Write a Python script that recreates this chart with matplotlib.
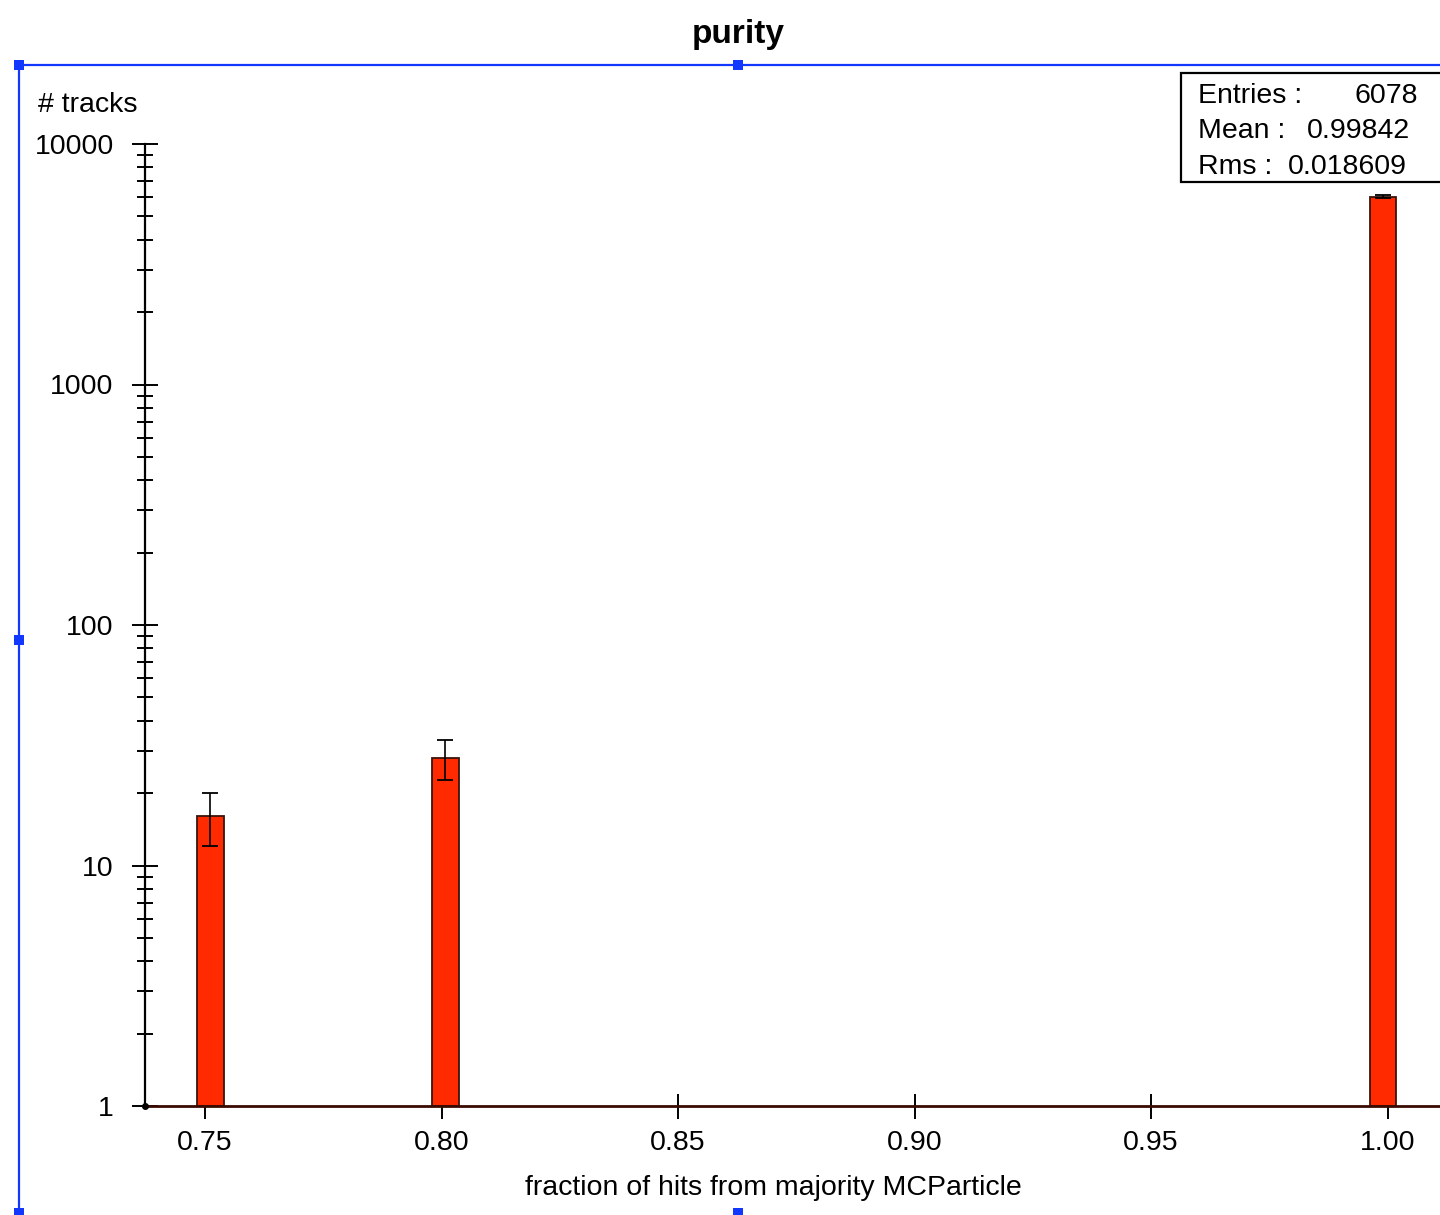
import numpy as np
import matplotlib
matplotlib.use("Agg")
import matplotlib.pyplot as plt
from matplotlib.patches import Rectangle
from matplotlib.lines import Line2D

plt.rcParams["font.family"] = ["Liberation Sans", "DejaVu Sans"]

# purity histogram: three filled bins
bin_values = [0.75, 0.80, 1.00]
bin_left = [0.7483, 0.7980, 0.9963]
bin_width = 0.0056
counts = [16, 28, 6034]
x_ticks = [0.75, 0.80, 0.85, 0.90, 0.95, 1.00]
y_ticks = [1, 10, 100, 1000, 10000]

W, H = 1440, 1215
FS = 20.5


def fx(x):
    return x / W


def fy(y):
    return 1 - y / H


counts = np.array(counts, dtype=float)
errors = np.sqrt(counts)
vals = np.array(bin_values)
entries = int(counts.sum())
mean = (counts * vals).sum() / counts.sum()
rms = np.sqrt((counts * vals ** 2).sum() / counts.sum() - mean ** 2)

fig = plt.figure(figsize=(W / 100, H / 100), dpi=100)
ax = fig.add_axes([fx(145), fy(1106), 1 - fx(145), fy(144) - fy(1106)])

# bars start at the bottom of the log axis (1)
centers = np.array(bin_left) + bin_width / 2
ax.bar(bin_left, counts - 1, width=bin_width, align="edge", bottom=1,
       color="#ff2a00", edgecolor="#3a1508", linewidth=1.3, zorder=2)
ax.errorbar(centers, counts, yerr=errors, fmt="none", ecolor="black",
            elinewidth=1.2, capsize=6, capthick=1.3, zorder=3)

ax.set_yscale("log")
ax.set_ylim(1, 10000)
ax.set_xlim(0.7373, 1.0111)

ax.set_xticks(x_ticks)
ax.set_xticklabels([f"{t:.2f}" for t in x_ticks])
ax.set_yticks(y_ticks)
ax.set_yticklabels([str(t) for t in y_ticks])
ax.yaxis.set_minor_locator(matplotlib.ticker.LogLocator(base=10, subs=np.arange(2, 10)))
ax.yaxis.set_minor_formatter(matplotlib.ticker.NullFormatter())

ax.tick_params(axis="x", which="major", direction="inout", length=18,
               width=1.4, pad=8, labelsize=FS, color="black")
ax.tick_params(axis="y", which="major", direction="inout", length=19,
               width=1.4, pad=13, labelsize=FS)
ax.tick_params(axis="y", which="minor", direction="inout", length=11.5,
               width=1.4)

for s in ["top", "right"]:
    ax.spines[s].set_visible(False)
ax.spines["left"].set_linewidth(1.6)
ax.spines["bottom"].set_linewidth(2.0)
ax.spines["bottom"].set_color("#3a0a00")
ax.spines["bottom"].set_zorder(4)
ax.plot([ax.get_xlim()[0]], [1], "o", color="black", ms=4, clip_on=False, zorder=5)

# titles and axis labels
fig.text(fx(738), fy(34), "purity", ha="center", va="center",
         fontsize=24, fontweight="bold")
fig.text(fx(38), fy(105), "# tracks", ha="left", va="center", fontsize=FS)
fig.text(fx(773), fy(1188), "fraction of hits from majority MCParticle",
         ha="center", va="center", fontsize=FS)

# statistics box
fig.add_artist(Rectangle((fx(1181), fy(182)), fx(300), fy(73) - fy(182),
                         transform=fig.transFigure, facecolor="white",
                         edgecolor="black", linewidth=1.6, clip_on=False))
stats = [("Entries :", f"{entries:d}", 1418, 96),
         ("Mean :", f"{mean:.5f}", 1410, 131),
         ("Rms :", f"{rms:.6f}", 1407, 167)]
for label, value, xv, yl in stats:
    fig.text(fx(1198), fy(yl), label, ha="left", va="center", fontsize=FS)
    fig.text(fx(xv), fy(yl), value, ha="right", va="center", fontsize=FS)

# selection frame around the plot region
blue = "#1238ff"
fig.add_artist(Line2D([fx(18), fx(1440)], [fy(65), fy(65)],
                      transform=fig.transFigure, color=blue, lw=1.6))
fig.add_artist(Line2D([fx(19), fx(19)], [fy(65), fy(1215)],
                      transform=fig.transFigure, color=blue, lw=1.6))
for hx, hy in [(19, 65), (738, 65), (19, 640), (19, 1213), (738, 1213)]:
    fig.add_artist(Rectangle((fx(hx - 5), fy(hy + 5)), fx(10), fy(0) - fy(10),
                             transform=fig.transFigure, facecolor=blue,
                             edgecolor="none"))

fig.savefig("out.png", dpi=100)
